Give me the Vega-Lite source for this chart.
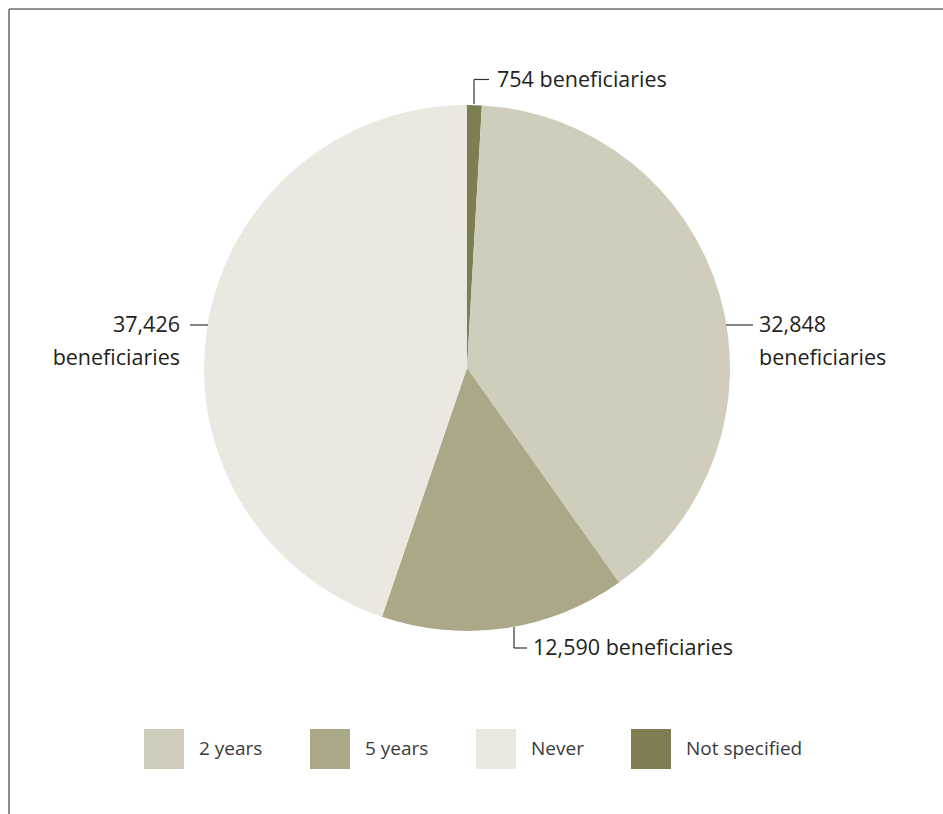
{
  "$schema": "https://vega.github.io/schema/vega-lite/v6.json",
  "width": 934,
  "height": 736,
  "autosize": {"type": "none"},
  "padding": {"left": 0, "top": 0, "right": 9, "bottom": 78},
  "background": "white",
  "config": {
    "view": {"stroke": null},
    "font": "Open Sans",
    "legend": {
      "orient": "none",
      "legendX": 144,
      "legendY": 729,
      "direction": "horizontal",
      "padding": 0,
      "symbolType": "square",
      "symbolSize": 1600,
      "symbolStrokeWidth": 0,
      "symbolOpacity": 1,
      "labelFont": "Open Sans",
      "labelFontSize": 19,
      "labelColor": "#3a3a3a",
      "labelOffset": 15,
      "columnPadding": 47,
      "title": null
    }
  },
  "data": {
    "values": [
      {"category": "Not specified", "value": 754},
      {"category": "2 years", "value": 32848},
      {"category": "5 years", "value": 12590},
      {"category": "Never", "value": 37426}
    ]
  },
  "layer": [
    {
      "transform": [{"calculate": "indexof(['Not specified','2 years','5 years','Never'], datum.category)", "as": "rank"}],
      "mark": {"type": "arc", "outerRadius": 263},
      "encoding": {
        "theta": {"field": "value", "type": "quantitative", "stack": true},
        "order": {"field": "rank", "type": "quantitative", "sort": "ascending"},
        "color": {
          "field": "category",
          "type": "nominal",
          "scale": {"domain": ["2 years", "5 years", "Never", "Not specified"], "range": ["#d0cdbc", "#aba888", "#ebe8e1", "#7f7e52"]},
          "legend": {"title": null}
        }
      }
    },
    {
      "data": {"values": [{}]},
      "mark": {"type": "rule", "stroke": "#6e6e6e", "strokeWidth": 1.6},
      "encoding": {
        "x": {"datum": -1.7414, "type": "quantitative", "scale": {"domain": [-1.7757, 1.7757], "nice": false, "zero": false}, "axis": null},
        "x2": {"datum": 1.8099},
        "y": {"datum": 1.365, "type": "quantitative", "scale": {"domain": [-1.3992, 1.3992], "nice": false, "zero": false}, "axis": null}
      }
    },
    {
      "data": {"values": [{}]},
      "mark": {"type": "rule", "stroke": "#6e6e6e", "strokeWidth": 1.6},
      "encoding": {
        "x": {"datum": -1.7414, "type": "quantitative", "scale": {"domain": [-1.7757, 1.7757], "nice": false, "zero": false}, "axis": null},
        "y": {"datum": 1.365, "type": "quantitative", "scale": {"domain": [-1.3992, 1.3992], "nice": false, "zero": false}, "axis": null},
        "y2": {"datum": -1.6958}
      }
    },
    {
      "data": {"values": [{}]},
      "mark": {"type": "rule", "stroke": "#333333", "strokeWidth": 1.2},
      "encoding": {
        "x": {"datum": 0.0266, "type": "quantitative", "scale": {"domain": [-1.7757, 1.7757], "nice": false, "zero": false}, "axis": null},
        "y": {"datum": 1.0038, "type": "quantitative", "scale": {"domain": [-1.3992, 1.3992], "nice": false, "zero": false}, "axis": null},
        "y2": {"datum": 1.097}
      }
    },
    {
      "data": {"values": [{}]},
      "mark": {"type": "rule", "stroke": "#333333", "strokeWidth": 1.2},
      "encoding": {
        "x": {"datum": 0.0266, "type": "quantitative", "scale": {"domain": [-1.7757, 1.7757], "nice": false, "zero": false}, "axis": null},
        "x2": {"datum": 0.0837},
        "y": {"datum": 1.097, "type": "quantitative", "scale": {"domain": [-1.3992, 1.3992], "nice": false, "zero": false}, "axis": null}
      }
    },
    {
      "data": {"values": [{}]},
      "mark": {"type": "rule", "stroke": "#333333", "strokeWidth": 1.2},
      "encoding": {
        "x": {"datum": 0.9848, "type": "quantitative", "scale": {"domain": [-1.7757, 1.7757], "nice": false, "zero": false}, "axis": null},
        "x2": {"datum": 1.0875},
        "y": {"datum": 0.1635, "type": "quantitative", "scale": {"domain": [-1.3992, 1.3992], "nice": false, "zero": false}, "axis": null}
      }
    },
    {
      "data": {"values": [{}]},
      "mark": {"type": "rule", "stroke": "#333333", "strokeWidth": 1.2},
      "encoding": {
        "x": {"datum": -1.0532, "type": "quantitative", "scale": {"domain": [-1.7757, 1.7757], "nice": false, "zero": false}, "axis": null},
        "x2": {"datum": -0.9848},
        "y": {"datum": 0.1635, "type": "quantitative", "scale": {"domain": [-1.3992, 1.3992], "nice": false, "zero": false}, "axis": null}
      }
    },
    {
      "data": {"values": [{}]},
      "mark": {"type": "rule", "stroke": "#333333", "strokeWidth": 1.2},
      "encoding": {
        "x": {"datum": 0.1787, "type": "quantitative", "scale": {"domain": [-1.7757, 1.7757], "nice": false, "zero": false}, "axis": null},
        "y": {"datum": -0.9848, "type": "quantitative", "scale": {"domain": [-1.3992, 1.3992], "nice": false, "zero": false}, "axis": null},
        "y2": {"datum": -1.0646}
      }
    },
    {
      "data": {"values": [{}]},
      "mark": {"type": "rule", "stroke": "#333333", "strokeWidth": 1.2},
      "encoding": {
        "x": {"datum": 0.1787, "type": "quantitative", "scale": {"domain": [-1.7757, 1.7757], "nice": false, "zero": false}, "axis": null},
        "x2": {"datum": 0.2281},
        "y": {"datum": -1.0646, "type": "quantitative", "scale": {"domain": [-1.3992, 1.3992], "nice": false, "zero": false}, "axis": null}
      }
    },
    {
      "transform": [
        {"filter": "datum.category === 'Not specified'"},
        {"calculate": "format(datum.value, ',') + ' beneficiaries'", "as": "label"}
      ],
      "mark": {"type": "text", "align": "left", "baseline": "alphabetic", "font": "Open Sans", "fontSize": 21.5, "color": "#231f20"},
      "encoding": {
        "x": {"datum": 0.1141, "type": "quantitative", "scale": {"domain": [-1.7757, 1.7757], "nice": false, "zero": false}, "axis": null},
        "y": {"datum": 1.0684, "type": "quantitative", "scale": {"domain": [-1.3992, 1.3992], "nice": false, "zero": false}, "axis": null},
        "text": {"field": "label"}
      }
    },
    {
      "transform": [
        {"filter": "datum.category === '2 years'"},
        {"calculate": "[format(datum.value, ','), 'beneficiaries']", "as": "label"}
      ],
      "mark": {"type": "text", "align": "left", "baseline": "alphabetic", "font": "Open Sans", "fontSize": 21.5, "lineHeight": 33, "color": "#231f20"},
      "encoding": {
        "x": {"datum": 1.1103, "type": "quantitative", "scale": {"domain": [-1.7757, 1.7757], "nice": false, "zero": false}, "axis": null},
        "y": {"datum": 0.135, "type": "quantitative", "scale": {"domain": [-1.3992, 1.3992], "nice": false, "zero": false}, "axis": null},
        "text": {"field": "label"}
      }
    },
    {
      "transform": [
        {"filter": "datum.category === 'Never'"},
        {"calculate": "[format(datum.value, ','), 'beneficiaries']", "as": "label"}
      ],
      "mark": {"type": "text", "align": "right", "baseline": "alphabetic", "font": "Open Sans", "fontSize": 21.5, "lineHeight": 33, "color": "#231f20"},
      "encoding": {
        "x": {"datum": -1.0913, "type": "quantitative", "scale": {"domain": [-1.7757, 1.7757], "nice": false, "zero": false}, "axis": null},
        "y": {"datum": 0.135, "type": "quantitative", "scale": {"domain": [-1.3992, 1.3992], "nice": false, "zero": false}, "axis": null},
        "text": {"field": "label"}
      }
    },
    {
      "transform": [
        {"filter": "datum.category === '5 years'"},
        {"calculate": "format(datum.value, ',') + ' beneficiaries'", "as": "label"}
      ],
      "mark": {"type": "text", "align": "left", "baseline": "alphabetic", "font": "Open Sans", "fontSize": 21.5, "color": "#231f20"},
      "encoding": {
        "x": {"datum": 0.251, "type": "quantitative", "scale": {"domain": [-1.7757, 1.7757], "nice": false, "zero": false}, "axis": null},
        "y": {"datum": -1.0913, "type": "quantitative", "scale": {"domain": [-1.3992, 1.3992], "nice": false, "zero": false}, "axis": null},
        "text": {"field": "label"}
      }
    }
  ]
}
